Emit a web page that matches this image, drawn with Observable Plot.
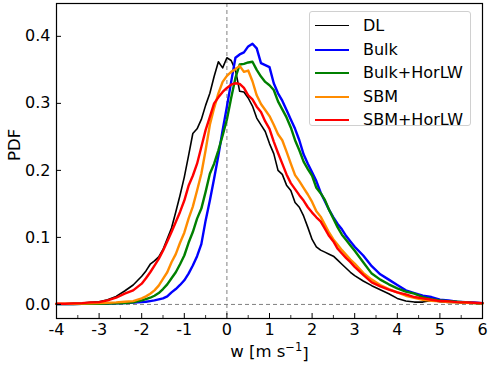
<!DOCTYPE html>
<html>
<head>
<meta charset="utf-8">
<script src="https://cdn.jsdelivr.net/npm/d3@7"></script>
<script src="https://cdn.jsdelivr.net/npm/@observablehq/plot@0.6"></script>
<style>
  html, body { margin: 0; padding: 0; background: white; }
  #wrap { position: relative; width: 493px; height: 369px; font-family: "DejaVu Sans", sans-serif; }
  #legend { position: absolute; left: 309px; top: 11px; width: 162px; height: 115px;
    border: 1px solid #d0d0d0; border-radius: 3px; background: rgba(255,255,255,0.85); box-sizing: border-box; }
  .item { position: absolute; left: 0; height: 20px; display: flex; align-items: center; }
  .sw { position: absolute; left: 5px; width: 34px; }
  .lab { position: absolute; left: 53px; font-size: 16px; color: black; white-space: nowrap; line-height: 20px; }
</style>
</head>
<body>
<div id="wrap"><div id="legend"></div></div>
<script>
// vertical velocity bins (m/s)
const w = [-4.0,-3.8,-3.6,-3.4,-3.2,-3.0,-2.8,-2.6,-2.4,-2.2,
  -2.0,-1.9,-1.8,-1.7,-1.6,-1.5,-1.4,-1.3,-1.2,-1.1,
  -1.0,-0.9,-0.8,-0.7,-0.6,-0.5,-0.4,-0.3,-0.2,-0.1,
  0.0,0.1,0.2,0.3,0.4,0.5,0.6,0.7,0.8,0.9,
  1.0,1.1,1.2,1.3,1.4,1.5,1.6,1.7,1.8,1.9,
  2.0,2.1,2.2,2.3,2.4,2.5,2.6,2.7,2.8,2.9,3.0,
  3.2,3.4,3.6,3.8,4.0,4.2,4.4,4.6,4.8,5.0,5.2,5.4,5.6,5.8,6.0];

const seriesNames = ["DL", "Bulk", "Bulk+HorLW", "SBM", "SBM+HorLW"];

const pdfDL = [0.001,0.001,0.0015,0.002,0.003,0.004,0.007,0.012,0.020,0.029,
  0.042,0.050,0.060,0.065,0.071,0.082,0.098,0.114,0.138,0.163,
  0.190,0.222,0.255,0.262,0.276,0.297,0.315,0.340,0.362,0.353,
  0.368,0.364,0.350,0.318,0.317,0.308,0.296,0.278,0.268,0.258,
  0.240,0.225,0.200,0.194,0.178,0.170,0.152,0.145,0.132,0.115,
  0.097,0.086,0.081,0.078,0.075,0.072,0.066,0.060,0.054,0.048,0.043,
  0.035,0.028,0.022,0.016,0.009,0.005,0.0035,0.0035,0.006,0.004,0.003,0.003,0.002,0.002,0.001];

const pdfBulk = [0.0005,0.0005,0.0005,0.0008,0.001,0.001,0.0012,0.0015,0.002,0.0028,
  0.0035,0.004,0.005,0.006,0.0075,0.009,0.012,0.018,0.023,0.029,
  0.036,0.046,0.058,0.072,0.090,0.125,0.155,0.188,0.222,0.260,
  0.295,0.332,0.368,0.373,0.376,0.385,0.389,0.382,0.360,0.357,
  0.354,0.330,0.315,0.304,0.290,0.276,0.262,0.245,0.224,0.210,
  0.197,0.184,0.167,0.154,0.141,0.130,0.120,0.112,0.102,0.094,0.086,
  0.073,0.057,0.045,0.037,0.029,0.021,0.017,0.013,0.011,0.007,0.006,0.004,0.0035,0.003,0.002];

const pdfBulkHorLW = [0.0005,0.0005,0.0006,0.0008,0.001,0.001,0.0012,0.0015,0.002,0.003,
  0.006,0.008,0.010,0.013,0.017,0.023,0.030,0.039,0.048,0.060,
  0.073,0.092,0.108,0.128,0.143,0.168,0.195,0.210,0.230,0.252,
  0.276,0.308,0.338,0.358,0.359,0.361,0.362,0.350,0.340,0.332,
  0.327,0.320,0.303,0.291,0.279,0.264,0.245,0.230,0.213,0.202,
  0.192,0.174,0.166,0.156,0.141,0.128,0.115,0.104,0.096,0.088,0.080,
  0.063,0.046,0.037,0.030,0.024,0.019,0.016,0.011,0.008,0.006,0.005,0.004,0.003,0.002,0.0015];

const pdfSBM = [0.001,0.001,0.001,0.0012,0.0015,0.002,0.0025,0.003,0.004,0.005,
  0.009,0.012,0.016,0.021,0.028,0.038,0.048,0.063,0.075,0.092,
  0.107,0.128,0.146,0.170,0.195,0.230,0.268,0.293,0.315,0.332,
  0.341,0.347,0.351,0.356,0.347,0.349,0.333,0.312,0.299,0.290,
  0.281,0.268,0.254,0.245,0.228,0.210,0.193,0.184,0.174,0.164,
  0.153,0.139,0.131,0.119,0.107,0.097,0.089,0.081,0.074,0.067,0.061,
  0.047,0.037,0.029,0.023,0.018,0.013,0.010,0.007,0.0055,0.0045,0.0035,0.003,0.0025,0.002,0.0015];

const pdfSBMHorLW = [0.001,0.001,0.0015,0.002,0.003,0.0035,0.006,0.010,0.016,0.021,
  0.031,0.039,0.048,0.058,0.068,0.080,0.094,0.108,0.123,0.138,
  0.155,0.177,0.192,0.210,0.235,0.260,0.280,0.300,0.309,0.317,
  0.323,0.328,0.330,0.329,0.323,0.312,0.306,0.295,0.287,0.273,
  0.262,0.243,0.226,0.210,0.194,0.181,0.172,0.163,0.155,0.145,
  0.137,0.130,0.124,0.113,0.102,0.094,0.083,0.076,0.069,0.063,0.056,
  0.044,0.033,0.027,0.022,0.018,0.015,0.011,0.009,0.007,0.005,0.0045,0.0035,0.003,0.0025,0.002];

const xTicks = [-4,-3,-2,-1,0,1,2,3,4,5,6];
const xMinor = [-3.5,-2.5,-1.5,-0.5,0.5,1.5,2.5,3.5,4.5,5.5];
const yTicks = [0.0,0.1,0.2,0.3,0.4];

const seriesValues = [pdfDL, pdfBulk, pdfBulkHorLW, pdfSBM, pdfSBMHorLW];
const colors = ["black", "#0000ff", "#008000", "#ff8c00", "#ff0000"];
const widths = [1.6, 2.4, 2.4, 2.4, 2.4];

const W = 493, H = 369, mL = 56, mR = 11, mT = 3, mB = 51;
const frameW = W - mL - mR, frameH = H - mT - mB;

const lineMarks = seriesNames.map((name, i) => {
  const rows = w.map((x, j) => ({w: x, v: seriesValues[i][j]}));
  return Plot.line(rows, {x: "w", y: "v", stroke: colors[i], strokeWidth: widths[i], strokeLinejoin: "round"});
});

const chart = Plot.plot({
  width: W, height: H,
  marginLeft: mL, marginRight: mR, marginTop: mT, marginBottom: mB,
  x: {domain: [-4, 6]},
  y: {domain: [-0.021, 0.449]},
  style: {fontFamily: "DejaVu Sans", fontSize: "16px", background: "white", color: "black"},
  marks: [
    Plot.ruleX([0], {stroke: "#808080", strokeWidth: 1, strokeDasharray: "4,3"}),
    Plot.ruleY([0], {stroke: "#808080", strokeWidth: 1, strokeDasharray: "4,3"}),
    ...lineMarks,
    Plot.tickX(xTicks, {x: d => d, insetTop: frameH - 5, stroke: "black", strokeWidth: 1}),
    Plot.tickX(xMinor, {x: d => d, insetTop: frameH - 3, stroke: "black", strokeWidth: 0.8}),
    Plot.tickY(yTicks, {y: d => d, insetRight: frameW - 5, stroke: "black", strokeWidth: 1}),
    Plot.axisX({ticks: xTicks, tickSize: 0, tickPadding: 5, tickFormat: d => String(d), label: null, fontSize: 16}),
    Plot.axisY({ticks: yTicks, tickSize: 0, tickPadding: 6, tickFormat: d => d.toFixed(1), label: null, fontSize: 16}),
    Plot.frame({stroke: "black", strokeWidth: 1.2}),
    Plot.text(["PDF"], {frameAnchor: "left", dx: -42, rotate: -90, fontSize: 16.5, fill: "black"}),
    Plot.text(["w [m s-1]"], {frameAnchor: "bottom", dy: 38, fontSize: 16.5, fill: "black", className: "xlabel"})
  ]
});

document.getElementById("wrap").prepend(chart);

// superscript for unit label
const xl = chart.querySelector(".xlabel text") || Array.from(chart.querySelectorAll("text")).find(t => t.textContent === "w [m s-1]");
if (xl) {
  xl.textContent = "";
  const ns = "http://www.w3.org/2000/svg";
  const t1 = document.createElementNS(ns, "tspan"); t1.textContent = "w [m s";
  const t2 = document.createElementNS(ns, "tspan"); t2.textContent = "\u22121"; t2.setAttribute("dy", "-0.45em"); t2.setAttribute("font-size", "11.5px");
  const t3 = document.createElementNS(ns, "tspan"); t3.textContent = "]"; t3.setAttribute("dy", "0.45em"); t3.setAttribute("font-size", "16.5px");
  xl.append(t1, t2, t3);
}

// legend
const lg = document.getElementById("legend");
const rowsY = [14, 38, 61, 85, 108];
seriesNames.forEach((name, i) => {
  const it = document.createElement("div");
  it.className = "item";
  it.style.top = (rowsY[i] - 10) + "px";
  const sw = document.createElement("div");
  sw.className = "sw";
  sw.style.borderTop = widths[i] + "px solid " + colors[i];
  sw.style.top = (10 - widths[i] / 2) + "px";
  const lab = document.createElement("div");
  lab.className = "lab";
  lab.textContent = name;
  lab.style.top = "0px";
  it.append(sw, lab);
  lg.append(it);
});
</script>
</body>
</html>
